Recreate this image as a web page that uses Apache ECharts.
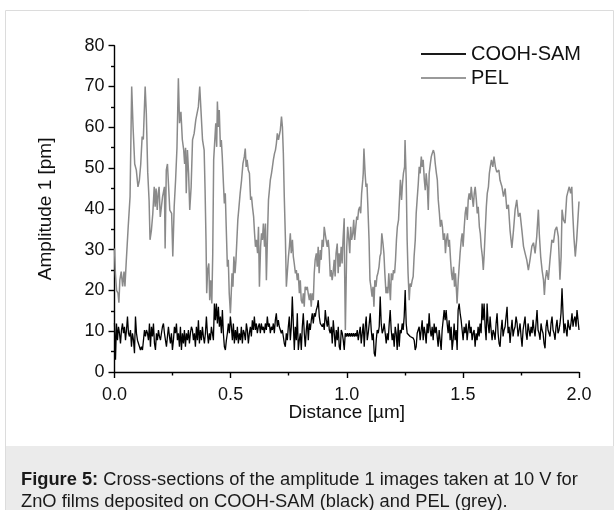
<!DOCTYPE html>
<html>
<head>
<meta charset="utf-8">
<script src="https://cdn.jsdelivr.net/npm/echarts@6/dist/echarts.min.js"></script>
<style>
  html, body { margin: 0; padding: 0; background: #fff; }
  #chart { width: 615px; height: 510px; }
</style>
</head>
<body>
<div id="chart"></div>
<script>
const seriesNames = ['COOH-SAM', 'PEL'];
const xRange = [0, 2];
const yRange = [0, 80];

// COOH-SAM profile, evenly sampled over 0..2 µm
const coohSam = [
  12, 3, 11.9, 7.8, 11.1, 9.5, 7.0, 10.3, 11.9, 9.5, 11.1, 7.8, 10.3, 13.6, 9.5, 8.7, 10.3, 6.2, 9.5, 7.8,
  4.6, 13.6, 9.5, 7.8, 7.0, 6.2, 5.4, 6.2, 5.4, 7.8, 10.3, 8.7, 10.3, 9.5, 7.8, 11.9, 6.2, 11.1, 8.7, 11.9,
  7.0, 5.4, 9.5, 7.8, 10.3, 8.7, 7.8, 9.5, 11.1, 11.9, 9.5, 7.8, 6.2, 8.7, 11.1, 8.7, 7.0, 9.5, 5.4, 7.8,
  11.1, 9.5, 11.9, 7.8, 9.5, 6.2, 11.1, 5.4, 9.5, 7.0, 10.3, 6.2, 9.5, 7.8, 10.3, 7.0, 9.5, 11.1,
  10.3, 7.8, 9.5, 6.2, 11.1, 7.8, 12.7, 7.0, 10.3, 7.8, 11.1, 8.7, 7.0, 9.5, 13.6, 9.5, 7.0, 9.5, 7.8, 11.1,
  9.5, 7.8, 16.8, 12.7, 16.8, 11.9, 16.0, 11.1, 13.6, 9.5, 15.2, 9.5, 6.2, 5.4, 7.8, 9.5, 11.9, 9.5, 13.6, 11.1,
  7.8, 11.9, 7.0, 10.3, 7.8, 11.1, 7.0, 9.5, 7.8, 11.1, 7.0, 10.3, 9.5, 7.8, 11.9, 10.3, 7.0, 9.5, 11.1, 8.7,
  12.7, 10.3, 13.6, 10.3, 11.9, 9.5, 11.1, 11.9, 9.5, 11.9, 10.3, 11.1, 9.5, 11.9, 10.3, 13.6, 11.1, 11.9, 9.5, 11.1,
  10.3, 11.9, 9.5, 12.7, 14.4, 11.1, 12.7, 11.1, 10.3, 9.5, 10.3, 8.7, 7.0, 6.2, 9.5, 7.8, 11.1, 13.6,
  7.8, 11.1, 18.5, 11.9, 5.4, 11.1, 7.8, 14.4, 5.4, 7.8, 9.5, 5.4, 11.1, 14.4, 9.5, 6.2, 10.3, 12.7, 7.8, 11.9,
  10.3, 12.7, 14.4, 11.9, 14.4, 13.6, 15.2, 16.0, 17.6, 13.6, 11.9, 11.9, 11.1, 11.9, 10.3, 15.2, 12.7, 11.1, 13.6, 10.3,
  9.5, 11.1, 7.0, 12.7, 9.5, 6.2, 10.3, 7.8, 11.1, 6.2, 5.4, 10.3, 9.5, 7.8, 5.4, 9.5, 8.7, 9.5, 8.7, 9.5,
  8.7, 9.5, 8.7, 9.5, 8.7, 9.5, 8.7, 10.3, 7.8, 9.5, 11.1, 7.0, 9.5, 11.9, 6.2, 11.1, 13.6, 7.8, 9.5, 11.9,
  14.4, 10.3, 7.8, 9.5, 4.6, 3.8, 7.8, 10.3, 9.5, 11.1, 18.5, 11.9, 9.5, 10.3, 11.9, 9.5, 7.0,
  9.5, 7.8, 11.9, 15.2, 10.3, 7.8, 9.5, 6.2, 11.1, 9.5, 5.4, 11.9, 6.2, 10.3, 9.5, 11.9, 10.3, 13.6, 20.1, 11.9,
  9.5, 9.5, 9.1, 8.7, 8.7, 8.7, 8.3, 7.8, 5.4, 6.2, 9.5, 9.5, 11.1, 7.8, 10.3, 12.7, 7.8, 11.1, 9.5, 7.0,
  11.9, 9.5, 14.4, 10.3, 8.7, 11.1, 7.8, 11.9, 9.5, 11.1, 8.7, 6.2, 10.3, 7.8, 5.4, 10.3, 12.7, 15.2, 12.7, 15.2,
  11.9, 9.5, 12.7, 7.8, 11.1, 5.4, 7.8, 11.9, 7.8, 10.3, 5.4, 15.2, 16.8, 14.4, 12.7, 10.3, 7.8, 11.1, 9.5, 11.9,
  7.8, 10.3, 12.7, 9.5, 11.1, 7.8, 9.5, 10.3, 6.2, 9.5, 7.8, 11.1, 8.7, 11.9, 9.5, 16.8, 12.7, 16.8, 11.1, 7.8,
  16.8, 11.9, 9.5, 13.6, 10.3, 7.8, 10.3, 9.5,
  7.9, 11.9, 14.4, 9.5, 7.0, 6.2, 10.3, 12.8, 8.7, 10.3, 11.1, 13.6, 16.0, 9.5, 11.1, 7.1, 10.3, 12.8, 8.7, 10.3,
  11.1, 13.6, 12.0, 8.7, 10.3, 11.9, 8.7, 6.2, 10.3, 11.9, 13.6, 9.5, 7.9, 11.9, 10.3, 8.7, 11.1, 9.5, 12.8, 10.3,
  8.7, 12.0, 15.2, 10.3, 9.5, 7.9, 11.9, 10.3, 9.5, 7.0, 5.8, 11.1, 12.8, 10.3, 9.5, 8.7, 11.9, 13.6, 10.3, 9.5,
  7.9, 11.1, 12.8, 9.5, 10.3, 11.9, 14.4, 20.5, 14.4, 9.5, 11.9, 10.3, 8.7, 12.8, 11.1, 10.3, 12.0, 14.4, 11.1, 12.8,
  13.6, 11.1, 15.2, 12.8, 10.3
];

// PEL profile as [distance µm, amplitude pm]
const pel = [
  [0, 30.3], [0.004, 24], [0.009, 20], [0.015, 19.3], [0.019, 17], [0.023, 22.5], [0.029, 24.6], [0.035, 21],
  [0.041, 24.6], [0.045, 21], [0.051, 27.5], [0.059, 35.6], [0.067, 43], [0.074, 70], [0.080, 60], [0.087, 51],
  [0.094, 49.5], [0.101, 45.4], [0.107, 47], [0.113, 51], [0.119, 57.7], [0.124, 57], [0.132, 70], [0.137, 63.4],
  [0.143, 49], [0.149, 42], [0.153, 32.4], [0.159, 34.8], [0.165, 38.9], [0.171, 45.4], [0.175, 40.5], [0.179, 45],
  [0.184, 39.7], [0.188, 43.8], [0.192, 45.4], [0.197, 38], [0.202, 38], [0.207, 43], [0.211, 43], [0.215, 45.4],
  [0.218, 30.3], [0.223, 49.5], [0.228, 51], [0.233, 45.4], [0.238, 39.7], [0.246, 38.9], [0.251, 28.3], [0.257, 40.5],
  [0.263, 47], [0.269, 55], [0.275, 72], [0.280, 61], [0.286, 63.8], [0.292, 57], [0.298, 54.4], [0.302, 51],
  [0.306, 55], [0.309, 43.8], [0.314, 54.4], [0.319, 48.7], [0.324, 39.7], [0.330, 45.4], [0.336, 56.9], [0.343, 58.5],
  [0.350, 61.8], [0.356, 62.2], [0.361, 65], [0.367, 70], [0.373, 63.4], [0.379, 56.9], [0.386, 54.4], [0.390, 44.6],
  [0.394, 32.4], [0.397, 19.3], [0.401, 25], [0.406, 26.6], [0.410, 17.6], [0.414, 22.5], [0.419, 16.8], [0.423, 29],
  [0.427, 52], [0.431, 56], [0.436, 61], [0.440, 55.2], [0.443, 66.3], [0.447, 60.1], [0.451, 64.2], [0.456, 55.2],
  [0.460, 56.9], [0.464, 52.8], [0.469, 46.2], [0.473, 41.3], [0.477, 43.8], [0.481, 35.6], [0.486, 25.8], [0.490, 27.5],
  [0.494, 19.3], [0.499, 14.4], [0.501, 16.8], [0.506, 24.2], [0.510, 20.9], [0.514, 28.3], [0.519, 24.2], [0.523, 27.5],
  [0.527, 32.4], [0.531, 37.3], [0.536, 40.5], [0.541, 43.8], [0.547, 47], [0.553, 51.1], [0.559, 52.8], [0.563, 54.8],
  [0.567, 50.3], [0.571, 52], [0.576, 49.5], [0.581, 48.7], [0.586, 42.2], [0.590, 43], [0.594, 40.5], [0.599, 38.1],
  [0.603, 34], [0.607, 30.7], [0.611, 32.4], [0.616, 29.1], [0.620, 35.6], [0.624, 20.9], [0.629, 30.7], [0.633, 34],
  [0.637, 32.4], [0.641, 36.4], [0.646, 30.7], [0.650, 36.4], [0.654, 22.5], [0.659, 34], [0.663, 42.2], [0.667, 44.6],
  [0.671, 47.1], [0.676, 48.7], [0.680, 50.3], [0.684, 52], [0.689, 53.6], [0.693, 54.4], [0.697, 56], [0.701, 58.5],
  [0.706, 56.9], [0.710, 56.9], [0.714, 59.3], [0.719, 62.6], [0.723, 60.1], [0.727, 53.6], [0.731, 43], [0.736, 32.4],
  [0.740, 20.9], [0.744, 24.2], [0.749, 28.3], [0.753, 30.7], [0.757, 34], [0.761, 29.1], [0.766, 32.4], [0.770, 28.3],
  [0.774, 26.6], [0.779, 24.2], [0.783, 25], [0.787, 22.5], [0.791, 24.2], [0.796, 19.3], [0.800, 22.5], [0.804, 17.6],
  [0.809, 16.8], [0.813, 19.3], [0.817, 16], [0.821, 20.9], [0.826, 20.1], [0.830, 20.9], [0.834, 19.3], [0.839, 17.6],
  [0.843, 19.3], [0.847, 16], [0.851, 19.3], [0.856, 17.6], [0.860, 24.2], [0.864, 27.5], [0.869, 29.1], [0.873, 25.8],
  [0.877, 30.7], [0.881, 24.2], [0.886, 29.9], [0.890, 27.5], [0.894, 32.4], [0.899, 30.7], [0.903, 35.6], [0.907, 34],
  [0.911, 32.4], [0.916, 30.7], [0.920, 32.4], [0.924, 29.9], [0.929, 23.4], [0.933, 25], [0.937, 22.5], [0.941, 24.2],
  [0.946, 27.5], [0.950, 23.4], [0.954, 29.1], [0.959, 31.5], [0.963, 24.2], [0.967, 29.1], [0.971, 25.8], [0.976, 30.7],
  [0.980, 26.6], [0.984, 32.4], [0.989, 37.7], [0.991, 24.2], [0.994, 10.3], [1.000, 30.7], [1.004, 35.6], [1.009, 32.4],
  [1.013, 29.1], [1.017, 35.6], [1.021, 32.4], [1.026, 34], [1.030, 37.3], [1.034, 32.4], [1.039, 35.6], [1.043, 38.1],
  [1.047, 37.3], [1.051, 39.7], [1.056, 40.5], [1.060, 38.9], [1.064, 43.8], [1.069, 47.1], [1.071, 48.7], [1.074, 54.8],
  [1.079, 48.7], [1.083, 45.4], [1.087, 46.2], [1.091, 40.5], [1.096, 32.4], [1.100, 22.5], [1.104, 20.9], [1.109, 18.5],
  [1.113, 20.9], [1.117, 16], [1.121, 22.5], [1.126, 20.9], [1.130, 23.4], [1.134, 24.2], [1.139, 25.8], [1.143, 28.3],
  [1.147, 29.1], [1.151, 34], [1.156, 31.5], [1.160, 29.1], [1.164, 24.2], [1.169, 19.3], [1.173, 20.9], [1.177, 19.3],
  [1.181, 24.2], [1.186, 19.3], [1.188, 17.6], [1.192, 24.2], [1.197, 22.5], [1.201, 25], [1.206, 24.2], [1.210, 27.5],
  [1.214, 32.4], [1.218, 35.6], [1.223, 37.3], [1.227, 42.2], [1.231, 47.1], [1.236, 42.2], [1.240, 46.2], [1.244, 48.7],
  [1.249, 50.3], [1.251, 56.9], [1.256, 47.1], [1.260, 32.4], [1.264, 24.2], [1.269, 17.6], [1.273, 21.7], [1.277, 20.9],
  [1.282, 22.5], [1.286, 23.4], [1.290, 28.3], [1.295, 32.4], [1.299, 38.9], [1.303, 42.2], [1.308, 46.2], [1.312, 50.3],
  [1.316, 48.7], [1.321, 52.8], [1.325, 50.3], [1.329, 52], [1.334, 47.1], [1.338, 44.6], [1.342, 48.7], [1.347, 45.4],
  [1.351, 39.7], [1.355, 48.7], [1.360, 51.1], [1.364, 52.8], [1.368, 53.6], [1.373, 54.4], [1.377, 53.6], [1.381, 51.1],
  [1.386, 48.7], [1.390, 47.1], [1.394, 42.2], [1.399, 38.9], [1.403, 35.6], [1.408, 37.3], [1.412, 35.6], [1.416, 32.4],
  [1.421, 34], [1.425, 29.1], [1.429, 32.4], [1.434, 34], [1.438, 30.7], [1.442, 32.4], [1.447, 27.5], [1.451, 24.2],
  [1.455, 22.5], [1.460, 25.8], [1.464, 20.9], [1.468, 24.2], [1.473, 19.3], [1.475, 16.8], [1.480, 22.5], [1.484, 25.8],
  [1.488, 29.1], [1.493, 32.4], [1.497, 34], [1.501, 30.7], [1.506, 35.6], [1.510, 38.9], [1.514, 40.5], [1.519, 37.3],
  [1.523, 42.2], [1.527, 43.8], [1.532, 42.2], [1.536, 45.4], [1.540, 43], [1.545, 40.5], [1.549, 43.8], [1.553, 45.4],
  [1.558, 42.2], [1.562, 38.9], [1.566, 40.5], [1.571, 35.6], [1.575, 34], [1.579, 30.7], [1.584, 28.3], [1.588, 25],
  [1.592, 29.1], [1.597, 35.6], [1.601, 40.5], [1.605, 43.8], [1.610, 45.4], [1.614, 48.7], [1.618, 50.3], [1.623, 52],
  [1.629, 50.3], [1.634, 52.8], [1.640, 50.3], [1.646, 49], [1.655, 49.5], [1.660, 47], [1.668, 45.5], [1.675, 43],
  [1.682, 45], [1.689, 40], [1.696, 41], [1.703, 34.8], [1.711, 30.4], [1.718, 34.8], [1.725, 39.8], [1.732, 42.2],
  [1.739, 38.1], [1.746, 39], [1.754, 34.8], [1.761, 30.8], [1.768, 29.1], [1.775, 27.5], [1.782, 25], [1.789, 27.5],
  [1.797, 30.8], [1.804, 31.7], [1.811, 29.1], [1.818, 33.2], [1.825, 39.8], [1.829, 33.9], [1.835, 28.3], [1.841, 25],
  [1.847, 22.6], [1.851, 18.9], [1.855, 22.6], [1.861, 25], [1.868, 22.6], [1.875, 27.5], [1.883, 32.4], [1.890, 31.7],
  [1.897, 34.8], [1.904, 35.6], [1.911, 33.2], [1.918, 22.6], [1.923, 28.3], [1.927, 39.8], [1.933, 37.3], [1.940, 36.5],
  [1.947, 43], [1.954, 44.6], [1.958, 45.4], [1.964, 43.8], [1.969, 45.4], [1.973, 39], [1.978, 33.2], [1.984, 28.3],
  [1.990, 32.4], [1.996, 38.1], [2.0, 41.8]
];

const captionBold = 'Figure 5:';
const captionLine1 = ' Cross-sections of the amplitude 1 images taken at 10 V for';
const captionLine2 = 'ZnO films deposited on COOH-SAM (black) and PEL (grey).';

const FONT = '"Liberation Sans", Arial, sans-serif';

const step = (xRange[1] - xRange[0]) / (coohSam.length - 1);
const coohData = coohSam.map((v, i) => [xRange[0] + i * step, v]);

const chart = echarts.init(document.getElementById('chart'), null, { renderer: 'canvas' });

const axisCommon = {
  axisLine: { show: true, lineStyle: { color: '#000', width: 1.4 } },
  axisTick: { show: true, inside: false, length: 6, lineStyle: { color: '#000', width: 1.4 } },
  minorTick: { show: true, splitNumber: 2, length: 3.5, lineStyle: { color: '#000', width: 1.4 } },
  splitLine: { show: false },
  axisLabel: { color: '#111', fontSize: 18, fontFamily: FONT },
  nameTextStyle: { color: '#111', fontSize: 19, fontFamily: FONT },
};

chart.setOption({
  animation: false,
  backgroundColor: '#fff',
  grid: { left: 114.5, top: 45.7, width: 464.5, height: 326.3, containLabel: false },
  legend: {
    orient: 'vertical',
    left: 416,
    top: 39,
    icon: 'rect',
    itemWidth: 45,
    itemHeight: 2,
    itemGap: 4,
    textStyle: { color: '#111', fontSize: 20, fontFamily: FONT },
    data: seriesNames,
  },
  xAxis: Object.assign({}, axisCommon, {
    type: 'value',
    min: xRange[0],
    max: xRange[1],
    interval: 0.5,
    name: 'Distance [µm]',
    nameLocation: 'middle',
    nameGap: 31,
    nameMoveOverlap: false,
    axisLabel: Object.assign({}, axisCommon.axisLabel, {
      margin: 14,
      formatter: (v) => v.toFixed(1),
    }),
  }),
  yAxis: Object.assign({}, axisCommon, {
    type: 'value',
    min: yRange[0],
    max: yRange[1],
    interval: 10,
    name: 'Amplitude 1 [pm]',
    nameLocation: 'middle',
    nameRotate: 90,
    nameGap: 59,
    nameMoveOverlap: false,
    axisLabel: Object.assign({}, axisCommon.axisLabel, { margin: 10 }),
  }),
  series: [
    {
      name: seriesNames[0],
      type: 'line',
      data: coohData,
      showSymbol: false,
      symbol: 'none',
      lineStyle: { color: '#000', width: 1.3 },
      itemStyle: { color: '#1a1a1a' },
      z: 3,
    },
    {
      name: seriesNames[1],
      type: 'line',
      data: pel,
      showSymbol: false,
      symbol: 'none',
      lineStyle: { color: '#8a8a8a', width: 1.5 },
      itemStyle: { color: '#9a9a9a' },
      z: 2,
    },
  ],
  graphic: [
    {
      type: 'rect',
      silent: true,
      z: -10,
      shape: { x: 5.5, y: 10.5, width: 608, height: 520 },
      style: { fill: 'none', stroke: '#dcdcdc', lineWidth: 1 },
    },
    {
      type: 'rect',
      silent: true,
      z: -9,
      shape: { x: 6, y: 446, width: 608, height: 70 },
      style: { fill: '#ebebeb' },
    },
    {
      type: 'text',
      left: 21,
      top: 471,
      silent: true,
      style: {
        text: '{b|' + captionBold + '}' + captionLine1,
        font: '18.3px ' + FONT,
        fill: '#1a1a1a',
        rich: { b: { fontWeight: 'bold', fontSize: 18.3, fontFamily: FONT, fill: '#1a1a1a' } },
      },
    },
    {
      type: 'text',
      left: 21,
      top: 493,
      silent: true,
      style: { text: captionLine2, font: '18.3px ' + FONT, fill: '#1a1a1a' },
    },
  ],
});
</script>
</body>
</html>
